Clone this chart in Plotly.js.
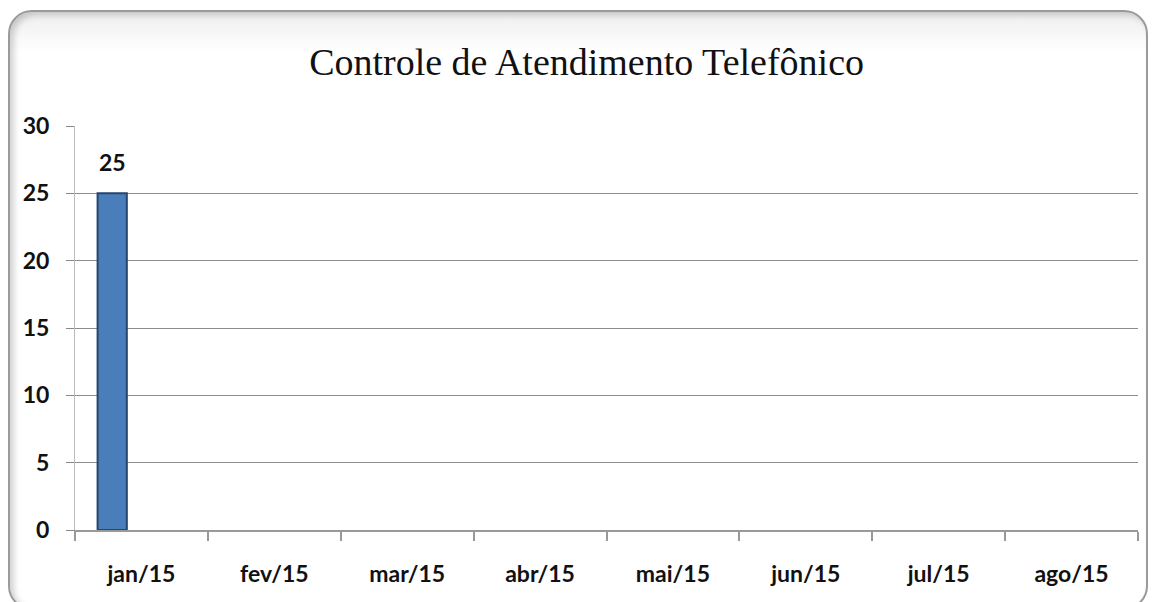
<!DOCTYPE html>
<html>
<head>
<meta charset="utf-8">
<script src="https://cdn.plot.ly/plotly-3.0.1.min.js"></script>
<style>
  html, body { margin: 0; padding: 0; background: #ffffff; width: 1157px; height: 602px; overflow: hidden; }
  #frame {
    position: absolute; left: 8px; top: 10px; width: 1140px; height: 600px;
    border: 2px solid #9a9a9a; border-radius: 24px; box-sizing: border-box;
    background: linear-gradient(#eeeeee 0px, #ffffff 40px, #ffffff 100%);
    box-shadow: inset 4px 3px 6px rgba(0,0,0,0.18);
  }
  #chart { position: absolute; left: 0; top: 0; width: 1157px; height: 602px; }
</style>
</head>
<body>
<div id="frame"></div>
<div id="chart"></div>
<script>
const months = ["jan/15", "fev/15", "mar/15", "abr/15", "mai/15", "jun/15", "jul/15", "ago/15"];
const serie1 = [25, null, null, null, null, null, null, null];
const serie2 = [null, null, null, null, null, null, null, null];
const serie3 = [null, null, null, null, null, null, null, null];
const yTicks = [0, 5, 10, 15, 20, 25, 30];

const barStyle = {
  color: "#4a7ebb",
  line: { color: "#26466e", width: 2 }
};
const labelFont = { family: "Lato, 'Open Sans', sans-serif", size: 23, color: "#111111", weight: 700 };

const traces = [
  { type: "bar", x: months, y: serie1, marker: barStyle, hoverinfo: "x+y" },
  { type: "bar", x: months, y: serie2, marker: { color: "#c0504d" }, hoverinfo: "x+y" },
  { type: "bar", x: months, y: serie3, marker: { color: "#9bbb59" }, hoverinfo: "x+y" }
];

// data labels for the first series, placed above each bar through the axis scales
const annotations = [];
months.forEach((m, i) => {
  if (serie1[i] != null) {
    annotations.push({
      x: m, y: serie1[i], xref: "x", yref: "y",
      text: String(serie1[i]), showarrow: false,
      xshift: -29, yshift: 31,
      font: labelFont
    });
  }
});

const layout = {
  width: 1157, height: 602,
  margin: { l: 75, r: 19, t: 126, b: 72 },
  paper_bgcolor: "rgba(0,0,0,0)",
  plot_bgcolor: "rgba(0,0,0,0)",
  showlegend: false,
  barmode: "group",
  bargap: 0.34,
  bargroupgap: 0,
  annotations: annotations,
  title: {
    text: "Controle de Atendimento Telefônico",
    font: { family: "'Liberation Serif', 'Times New Roman', serif", size: 38, color: "#111111" },
    x: 0.507, xanchor: "center", y: 0.897, yanchor: "middle"
  },
  xaxis: {
    type: "category",
    categoryorder: "array", categoryarray: months,
    tickson: "boundaries",
    ticks: "outside", ticklen: 9, tickcolor: "#999999", tickwidth: 2,
    showline: true, linecolor: "#999999", linewidth: 2,
    showgrid: false,
    tickfont: labelFont,
    ticklabelstandoff: 22,
    fixedrange: true
  },
  yaxis: {
    range: [0, 30],
    tickvals: yTicks,
    ticktext: yTicks.map(String),
    ticks: "outside", ticklen: 8, tickcolor: "#888888", tickwidth: 1,
    showline: true, linecolor: "#bbbbbb", linewidth: 1,
    showgrid: true, gridcolor: "#8c8c8c", gridwidth: 1,
    zeroline: false,
    tickfont: labelFont,
    ticklabelstandoff: 12,
    fixedrange: true
  }
};

Plotly.newPlot("chart", traces, layout, { displayModeBar: false, staticPlot: true });
</script>
</body>
</html>
